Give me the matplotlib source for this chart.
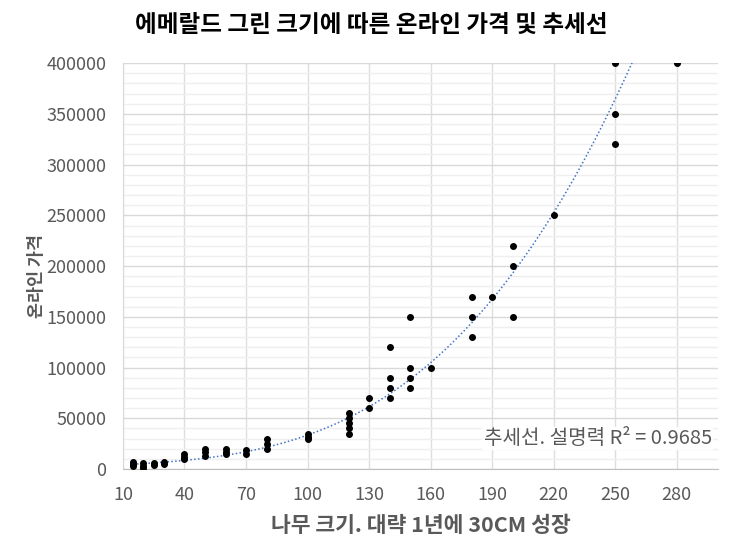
import matplotlib.pyplot as plt
import numpy as np

plt.rcParams['font.family'] = ['Noto Sans CJK KR', 'DejaVu Sans']

# --- 데이터 (나무 크기 cm, 온라인 가격) ---
tree_size = [15, 15, 15, 20, 20, 20, 25, 25, 30, 30,
             40, 40, 40, 50, 50, 50, 60, 60, 60, 70, 70,
             80, 80, 80, 100, 100, 100,
             120, 120, 120, 120, 120, 130, 130,
             140, 140, 140, 140, 150, 150, 150, 150, 160,
             180, 180, 180, 190, 200, 200, 200, 220,
             250, 250, 250, 280]
price = [7000, 5000, 3000, 6000, 3000, 1000, 6000, 4000, 7000, 5000,
         15000, 12000, 10000, 20000, 17000, 13000, 20000, 17000, 15000, 19000, 15000,
         30000, 25000, 20000, 35000, 32000, 30000,
         55000, 50000, 45000, 40000, 35000, 70000, 60000,
         120000, 90000, 80000, 70000, 150000, 100000, 90000, 80000, 100000,
         170000, 150000, 130000, 170000, 220000, 200000, 150000, 250000,
         400000, 350000, 320000, 400000]

# 추세선: 그림에서 읽은 추세선 위의 값
trend_x = [15, 40, 70, 100, 120, 160, 180, 190, 200, 220, 250, 258]
trend_y = [3300, 9900, 18700, 34000, 49000, 100000, 142000, 170000,
           200000, 250000, 363000, 400000]

x_ticks = [10, 40, 70, 100, 130, 160, 190, 220, 250, 280]
y_ticks = [0, 50000, 100000, 150000, 200000, 250000, 300000, 350000, 400000]

txt_gray = "#595959"

fig = plt.figure(figsize=(7.43, 5.54), dpi=100)
ax = fig.add_axes([0.1655, 0.1534, 0.8005, 0.7326])

# 추세선 (3차 다항식)
coef = np.polyfit(trend_x, trend_y, 3)
xs = np.linspace(min(tree_size), max(tree_size), 300)
ax.plot(xs, np.polyval(coef, xs), linestyle=(0, (1, 1.5)), color="#4472c4",
        linewidth=1.1, zorder=2)

ax.scatter(tree_size, price, s=16, color="black", zorder=3)

ax.set_xlim(10, 300)
ax.set_ylim(0, 400000)
ax.set_xticks(x_ticks)
ax.set_yticks(y_ticks)
ax.set_yticks(np.arange(0, 400001, 10000), minor=True)
ax.tick_params(axis="both", which="both", length=0, labelsize=13,
               labelcolor=txt_gray)
ax.tick_params(axis="x", pad=12)
ax.tick_params(axis="y", pad=12)

ax.grid(axis="y", which="major", color="#d9d9d9", linewidth=1)
ax.grid(axis="y", which="minor", color="#efefef", linewidth=1)
ax.grid(axis="x", which="major", color="#dedede", linewidth=1)
ax.set_axisbelow(True)

for s in ["top", "right"]:
    ax.spines[s].set_visible(False)
ax.spines["left"].set_color("#d9d9d9")
ax.spines["bottom"].set_color("#bfbfbf")

ax.set_xlabel("나무 크기. 대략 1년에 30CM 성장", fontsize=15.5, fontweight="bold",
              color=txt_gray, labelpad=8)
ax.set_ylabel("온라인 가격", fontsize=12.5, fontweight="bold", color=txt_gray)
ax.yaxis.set_label_coords(-0.13, 0.475)
fig.text(0.5, 0.955, "에메랄드 그린 크기에 따른 온라인 가격 및 추세선",
         fontsize=17, fontweight="bold", color="black", ha="center", va="center")

ax.text(0.99, 0.075, "추세선. 설명력 R² = 0.9685", transform=ax.transAxes,
        ha="right", va="center", fontsize=14.5, color=txt_gray,
        bbox=dict(facecolor="white", edgecolor="none", pad=1))

fig.savefig("out.png", dpi=100)
